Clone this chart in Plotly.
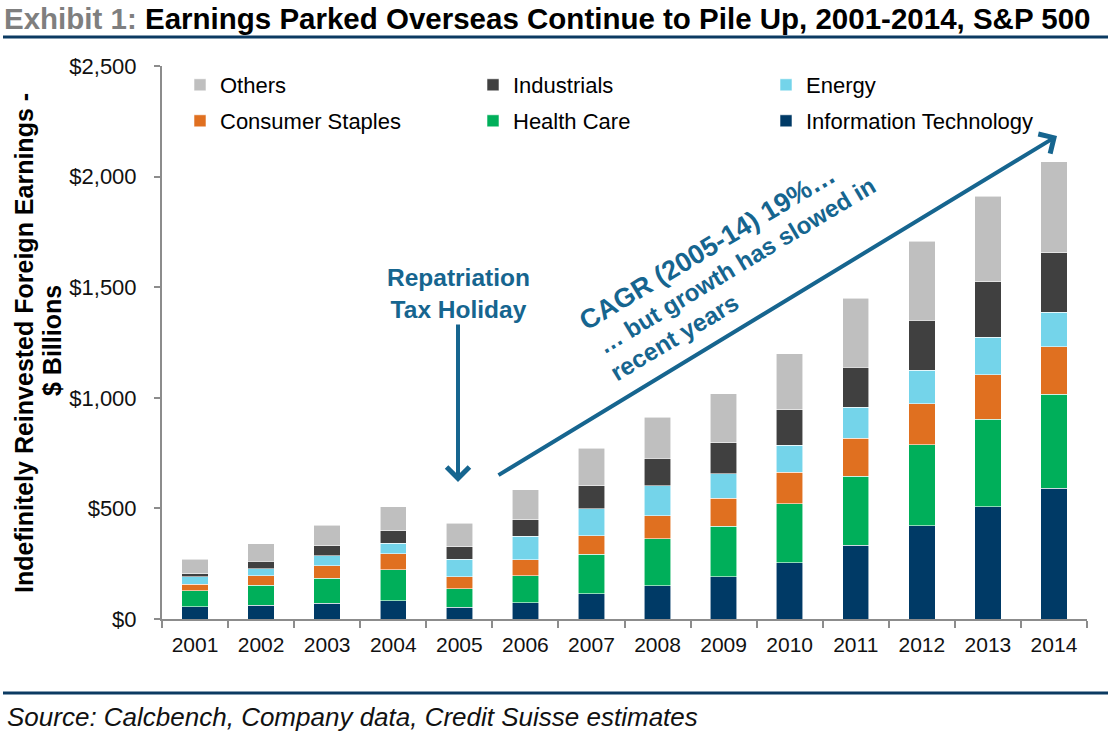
import plotly.graph_objects as go

years = ['2001', '2002', '2003', '2004', '2005', '2006', '2007', '2008', '2009', '2010', '2011', '2012', '2013', '2014']
info_tech = [56, 63, 71, 83, 54, 74, 114, 150, 191, 254, 334, 422, 508, 591]
health_care = [72, 89, 113, 140, 83, 122, 178, 212, 229, 267, 311, 366, 395, 425]
consumer_staples = [29, 43, 56, 71, 53, 72, 84, 104, 127, 143, 172, 185, 202, 215]
energy = [34, 33, 45, 48, 81, 106, 122, 136, 110, 121, 140, 152, 169, 155]
industrials = [14, 34, 47, 56, 56, 74, 104, 125, 139, 160, 182, 226, 250, 269]
others = [66, 79, 92, 110, 107, 136, 170, 185, 223, 254, 312, 357, 387, 413]

y_tickvals = [0, 500, 1000, 1500, 2000, 2500]
y_ticktext = ['$0', '$500', '$1,000', '$1,500', '$2,000', '$2,500']

FONT = 'Liberation Sans, Arial, sans-serif'
ANN = '#16658F'
NAVY = '#0B3A62'

series = [
    ('Information Technology', info_tech, '#003A66', 'legend2'),
    ('Health Care', health_care, '#00AF5A', 'legend2'),
    ('Consumer Staples', consumer_staples, '#E07020', 'legend2'),
    ('Energy', energy, '#74D4EA', 'legend'),
    ('Industrials', industrials, '#404040', 'legend'),
    ('Others', others, '#BFBFBF', 'legend'),
]

fig = go.Figure()
for name, vals, color, lg in series:
    fig.add_trace(go.Bar(
        x=years, y=vals, name=name, legend=lg,
        marker=dict(color=color, line=dict(color='rgba(255,255,255,0.7)', width=0.8)),
    ))

W, H = 1111, 735
L, R, T, B = 162, 24, 66, 116
PW = W - L - R
PH = H - T - B

def px(x):
    return (x - L) / PW

def py(y):
    return (H - B - y) / PH

legend_common = dict(orientation='h', traceorder='reversed', xanchor='left', yanchor='top',
                     entrywidth=248, font=dict(size=22, family=FONT, color='#000000'),
                     bgcolor='rgba(0,0,0,0)')

fig.update_layout(
    width=W, height=H,
    margin=dict(l=L, r=R, t=T, b=B, autoexpand=False),
    barmode='stack', bargap=0.6,
    plot_bgcolor='white', paper_bgcolor='white',
    font=dict(family=FONT, size=21, color='#111111'),
    title=dict(
        text="<b><span style='color:#7F7F7F'>Exhibit 1:</span> Earnings Parked Overseas Continue to Pile Up, 2001-2014, S&P 500</b>",
        font=dict(family=FONT, size=29.5, color='#000000'),
        x=4 / W, xref='container', xanchor='left',
        y=1 - 19 / H, yref='container', yanchor='middle',
    ),
    legend=dict(x=px(180), y=py(64), **legend_common),
    legend2=dict(x=px(180), y=py(100), **legend_common),
    xaxis=dict(
        type='category', showgrid=False, showline=True, linecolor='#8C8C8C', linewidth=2,
        ticks='outside', tickson='boundaries', ticklen=7, tickcolor='#8C8C8C', tickwidth=2,
        ticklabelstandoff=6,
        tickfont=dict(size=21, family=FONT, color='#111111'), automargin=False,
    ),
    yaxis=dict(
        range=[0, 2500], tickvals=y_tickvals, ticktext=y_ticktext,
        showgrid=False, zeroline=False, showline=True, linecolor='#8C8C8C', linewidth=2,
        ticks='outside', ticklen=6, tickcolor='#8C8C8C', tickwidth=2,
        ticklabelstandoff=13,
        tickfont=dict(size=22, family=FONT, color='#111111'),
        automargin=False,
    ),
)

# y-axis title (two lines)
fig.add_annotation(text='<b>Indefinitely Reinvested Foreign Earnings -</b>', xref='paper', yref='paper',
                   x=px(24), y=py(343), textangle=-90, showarrow=False,
                   xanchor='center', yanchor='middle',
                   font=dict(size=25, family=FONT, color='#000000'))
fig.add_annotation(text='<b>$ Billions</b>', xref='paper', yref='paper',
                   x=px(52), y=py(341), textangle=-90, showarrow=False,
                   xanchor='center', yanchor='middle',
                   font=dict(size=25, family=FONT, color='#000000'))

# title underline and footer line
fig.add_shape(type='line', xref='paper', yref='paper', x0=px(3), x1=px(1108), y0=py(37), y1=py(37),
              line=dict(color=NAVY, width=3))
fig.add_shape(type='line', xref='paper', yref='paper', x0=px(3), x1=px(1108), y0=py(693), y1=py(693),
              line=dict(color=NAVY, width=3))

fig.add_annotation(text='<i>Source: Calcbench, Company data, Credit Suisse estimates</i>',
                   xref='paper', yref='paper', x=px(5), y=py(717), xanchor='left', yanchor='middle',
                   showarrow=False, font=dict(size=26, family=FONT, color='#111111'))

fig.add_annotation(text='<b>Repatriation<br>Tax Holiday</b>', xref='paper', yref='paper',
                   x=px(458), y=py(293), xanchor='center', yanchor='middle', showarrow=False,
                   font=dict(size=24.5, family=FONT, color=ANN))

# arrows
fig.add_annotation(text='', xref='paper', yref='paper', x=px(458), y=py(482),
                   ax=0, ay=-159, showarrow=True, arrowhead=4, arrowsize=1.1, arrowwidth=4,
                   arrowcolor=ANN, standoff=0)
fig.add_annotation(text='', xref='paper', yref='paper', x=px(1057), y=py(136),
                   ax=-560, ay=340, showarrow=True, arrowhead=4, arrowsize=1.1, arrowwidth=4,
                   arrowcolor=ANN, standoff=0)

ang = -31
fig.add_annotation(text='<b>CAGR (2005-14) 19%…</b>', xref='paper', yref='paper',
                   x=px(707), y=py(248), textangle=ang, showarrow=False,
                   xanchor='center', yanchor='middle',
                   font=dict(size=27, family=FONT, color=ANN))
fig.add_annotation(text='<b>… but growth has slowed in</b>', xref='paper', yref='paper',
                   x=px(736), y=py(265), textangle=ang, showarrow=False,
                   xanchor='center', yanchor='middle',
                   font=dict(size=24, family=FONT, color=ANN))
fig.add_annotation(text='<b>recent years</b>', xref='paper', yref='paper',
                   x=px(674), y=py(337), textangle=ang, showarrow=False,
                   xanchor='center', yanchor='middle',
                   font=dict(size=24.5, family=FONT, color=ANN))

fig.write_html('out.html', config={'displayModeBar': False},
               post_script="document.body.style.margin='0';document.body.style.overflow='hidden';")
